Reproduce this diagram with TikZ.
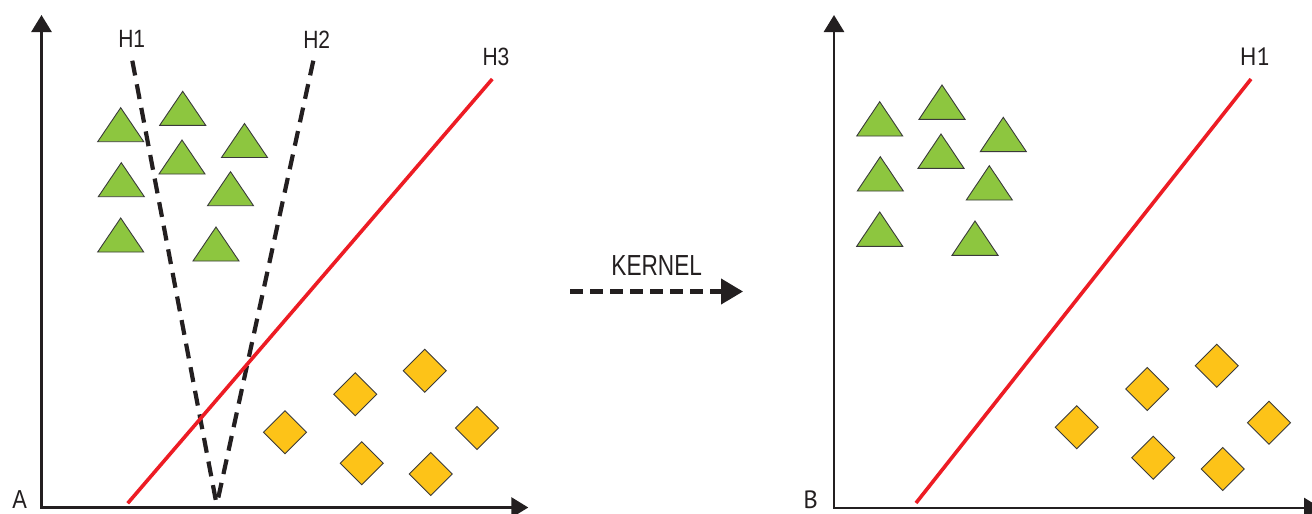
\documentclass[tikz,border=0pt]{standalone}
\usepackage{fontspec}
\setmainfont{Liberation Sans}
\newfontfamily\condH[FakeStretch=0.84]{Liberation Sans}
\newfontfamily\condK[FakeStretch=0.78]{Liberation Sans}
\newfontfamily\myr{PT Sans}
\usetikzlibrary{arrows.meta}
\definecolor{tgreen}{HTML}{8DC63F}
\definecolor{tyellow}{HTML}{FDC318}
\definecolor{tred}{HTML}{ED1C24}
\definecolor{axiscol}{HTML}{231F20}
\definecolor{outl}{HTML}{3A3A3A}
\tikzset{
  axisline/.style={line width=2.8pt, draw=axiscol, line join=miter,
    {Triangle[length=17pt,width=20pt]}-{Triangle[length=17pt,width=20pt]}},
  tri/.style={fill=tgreen, draw=outl, line width=0.9pt},
  dia/.style={fill=tyellow, draw=outl, line width=0.9pt},
  hyp/.style={line width=4.2pt, draw=axiscol, dash pattern=on 15pt off 9pt},
  sepline/.style={line width=3.6pt, draw=tred},
  lab/.style={font=\condH\fontsize{25}{25}\selectfont, inner sep=0pt, text=axiscol},
  labB/.style={font=\myr\fontsize{25}{25}\selectfont, inner sep=0pt, text=axiscol},
  kern/.style={font=\condK\fontsize{29}{29}\selectfont, inner sep=0pt, text=axiscol},
  karrow/.style={line width=4.2pt, draw=axiscol, dash pattern=on 13pt off 7pt,
    -{Triangle[length=22pt,width=25pt]}}
}
\begin{document}
\begin{tikzpicture}[x=1pt,y=-1pt]
\fill[white] (0,0) rectangle (1312,514);
\useasboundingbox (0,0) rectangle (1312,514);

% ---------- Panel A ----------
\coordinate (aTop) at (41.5,15);
\coordinate (aO) at (41.5,507.5);
\coordinate (aRight) at (528.3,507.5);
\draw[axisline] (aTop) -- (aO) -- (aRight);
\node[lab, font=\condH\fontsize{26}{26}\selectfont] (labA) at (19.7,499.5) {A};

% triangles (apex x, apex y)
\foreach \x/\y in {120.7/107.7, 182.7/91.3, 244.5/123.5, 182/140, 121.3/162.7, 230.5/171.7, 120.7/218, 216/227}
  \filldraw[tri] (\x,\y) -- ++(-23,34) -- ++(46,0) -- cycle;

% diamonds (center)
\foreach \x/\y in {285/432.3, 355.3/394.3, 424.7/370.7, 477/428, 361.7/463.3, 430.7/474}
  \filldraw[dia] (\x-21.5,\y) -- (\x,\y-21.5) -- (\x+21.5,\y) -- (\x,\y+21.5) -- cycle;

% hyperplanes
\coordinate (h1top) at (132.3,60.7);
\coordinate (h2top) at (313.3,60.7);
\coordinate (vtip) at (216.7,505);
\coordinate (h3bot) at (127.7,503.3);
\coordinate (h3top) at (492.3,79);
\draw[hyp] (h1top) -- (vtip);
\draw[hyp] (h2top) -- (vtip);
\draw[sepline] (h3bot) -- (h3top);
\node[lab] (labH1) at (131.7,39.3) {H1};
\node[lab] (labH2) at (316.7,39.3) {H2};
\node[lab] (labH3) at (496,57.3) {H3};

% ---------- Kernel arrow ----------
\node[kern] (kernel) at (656.7,265.5) {KERNEL};
\coordinate (k1) at (570,291.5);
\coordinate (k2) at (743,291.5);
\draw[karrow] (k1) -- (k2);

% ---------- Panel B ----------
\coordinate (bTop) at (834,15);
\coordinate (bO) at (834,508);
\coordinate (bRight) at (1321,508);
\draw[axisline] (bTop) -- (bO) -- (bRight);
\node[labB] (labB) at (810.7,500) {B};

\foreach \x/\y in {879.7/101.7, 942/85, 1003.3/117.3, 941/134, 880.3/156.7, 989.3/165.7, 879.7/212, 975/221}
  \filldraw[tri] (\x,\y) -- ++(-23,34.3) -- ++(46,0) -- cycle;

\foreach \x/\y in {1076.7/427.3, 1147.3/389, 1216.7/365.7, 1269/422.7, 1153.3/457.7, 1222.7/469}
  \filldraw[dia] (\x-21.5,\y) -- (\x,\y-21.5) -- (\x+21.5,\y) -- (\x,\y+21.5) -- cycle;

\coordinate (r1bot) at (916,503);
\coordinate (r1top) at (1251,79);
\draw[sepline] (r1bot) -- (r1top);
\node[labB] (labRH1) at (1255,56.7) {H1};
\end{tikzpicture}
\end{document}
